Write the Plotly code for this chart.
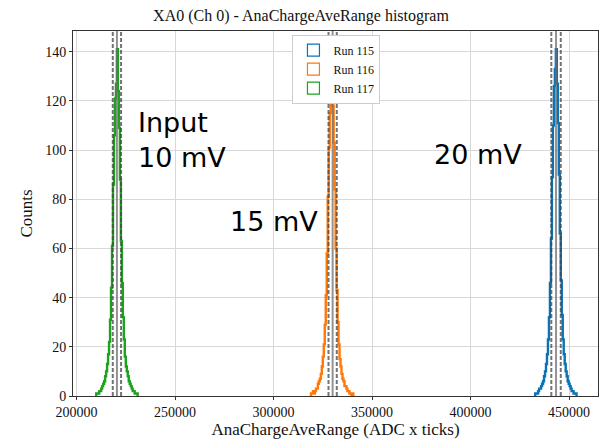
import plotly.graph_objects as go

# ---------------- data ----------------
runs = ["Run 115", "Run 116", "Run 117"]
colors = ["#0b72b6", "#ff780a", "#1ca21c"]
bin_width = 500
bin_start = [432300, 318500, 209500]

counts_115 = [0, 1, 1, 1, 2, 3, 3, 4, 5, 6, 8, 10, 13, 17, 23, 32, 46, 64, 89, 110, 126, 133,
              141, 127, 111, 90, 66, 47, 33, 23, 17, 13, 10, 8, 6, 5, 4, 3, 2, 2, 1, 1, 1, 0]
counts_116 = [0, 1, 1, 2, 1, 2, 3, 3, 5, 6, 7, 9, 12, 16, 21, 29, 41, 58, 81, 101, 115, 122,
              127, 118, 103, 84, 60, 43, 30, 21, 15, 12, 9, 7, 6, 4, 4, 3, 2, 2, 1, 1, 0, 1]
counts_117 = [0, 1, 1, 1, 2, 2, 3, 4, 5, 6, 8, 10, 13, 17, 22, 31, 44, 61, 86, 106, 121, 127,
              141, 124, 109, 88, 63, 46, 32, 23, 16, 12, 10, 8, 6, 5, 4, 3, 2, 2, 1, 1, 1, 0]
all_counts = [counts_115, counts_116, counts_117]

line_centers = [443400, 330000, 220500]
line_offsets = [2400, 2100, 2100]

annotations_text = ["Input<br>10 mV", "15 mV", "20 mV"]
annotations_x = [230200, 277000, 380500]
annotations_y = [104, 71, 98]

x_ticks = [200000, 250000, 300000, 350000, 400000, 450000]
y_ticks = [0, 20, 40, 60, 80, 100, 120, 140]

SERIF = "Liberation Serif"
SANS = "DejaVu Sans"

fig = go.Figure()

for name, col, start, counts in zip(runs, colors, bin_start, all_counts):
    n = len(counts)
    edges = [start + bin_width * k for k in range(n + 1)]
    xs = [edges[0]] + edges[:n] + [edges[n]]
    ys = [0] + list(counts) + [0]
    fig.add_trace(go.Scatter(x=xs, y=ys, mode="lines", line=dict(color=col, width=2.4, shape="hv"),
                             showlegend=False, hoverinfo="skip"))
    # legend entry (open rectangle)
    fig.add_trace(go.Bar(x=[None], y=[None], name=name,
                         marker=dict(color="rgba(255,255,255,0)", line=dict(color=col, width=1.2)),
                         showlegend=True))

shapes = []
for c, h in zip(line_centers, line_offsets):
    shapes.append(dict(type="line", xref="x", yref="paper", x0=c, x1=c, y0=0, y1=1,
                       line=dict(color="rgba(110,110,110,0.75)", width=2)))
    for s in (-1, 1):
        shapes.append(dict(type="line", xref="x", yref="paper", x0=c + s * h, x1=c + s * h, y0=0, y1=1,
                           line=dict(color="rgba(70,70,70,0.75)", width=2, dash="4px,2px")))

annots = []
for t, ax, ay in zip(annotations_text, annotations_x, annotations_y):
    annots.append(dict(text=t, x=ax, y=ay, xref="x", yref="y", xanchor="left", yanchor="middle",
                       align="left", showarrow=False, font=dict(family=SANS, size=27, color="black")))

fig.update_layout(
    width=604, height=441,
    margin=dict(l=73, r=6, t=31, b=45),
    paper_bgcolor="white", plot_bgcolor="white",
    shapes=shapes,
    annotations=annots,
    title=dict(text="XA0 (Ch 0) - AnaChargeAveRange histogram", x=301 / 604, xref="container",
               xanchor="center", y=1 - 15 / 441, yref="container", yanchor="middle",
               font=dict(family=SERIF, size=16, color="#111")),
    font=dict(family=SERIF, size=14, color="#111"),
    xaxis=dict(range=[198200, 464700], tickvals=x_ticks, ticktext=[str(v) for v in x_ticks],
               showgrid=True, gridcolor="#d8d8d8", gridwidth=1, zeroline=False,
               showline=True, linecolor="#333", linewidth=1, mirror=True,
               ticks="outside", ticklen=3, tickcolor="#333",
               title=dict(text="AnaChargeAveRange (ADC x ticks)", font=dict(family=SERIF, size=17), standoff=4)),
    yaxis=dict(range=[0, 148.4], tickvals=y_ticks,
               showgrid=True, gridcolor="#d8d8d8", gridwidth=1, zeroline=False,
               showline=True, linecolor="#333", linewidth=1, mirror=True,
               ticks="outside", ticklen=3, tickcolor="#333",
               title=dict(text="Counts", font=dict(family=SERIF, size=17), standoff=8)),
    legend=dict(x=0.418, y=0.99, xanchor="left", yanchor="top", bgcolor="white",
                bordercolor="#cccccc", borderwidth=1, font=dict(family=SERIF, size=12),
                tracegroupgap=0),
    barmode="overlay",
)

fig.write_html("out.html", config={"displayModeBar": False},
               post_script="document.body.style.margin='0';")
